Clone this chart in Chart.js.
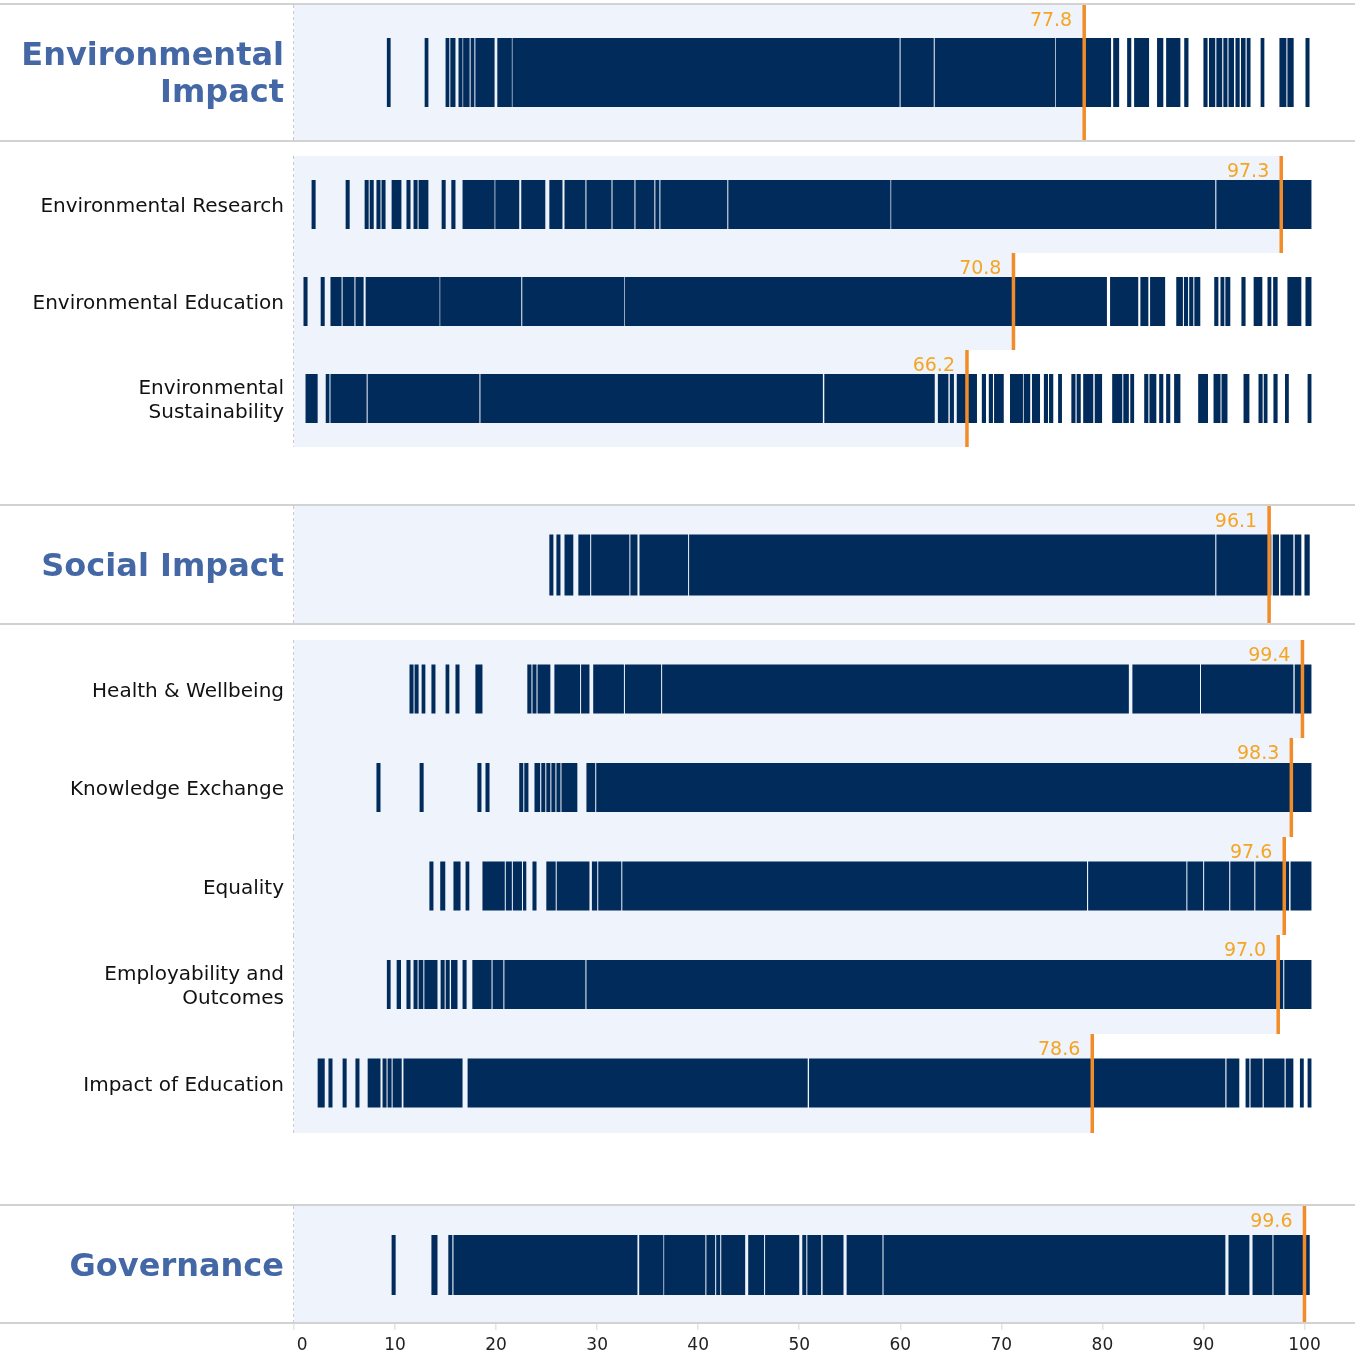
<!DOCTYPE html>
<html>
<head>
<meta charset="utf-8">
<script src="https://cdn.jsdelivr.net/npm/chart.js@4.4.1/dist/chart.umd.min.js"></script>
<style>
  html, body { margin: 0; padding: 0; background: #ffffff; }
  canvas { display: block; }
</style>
</head>
<body>
<canvas id="impactChart" width="1355" height="1359"></canvas>
<script>
// row labels (top to bottom)
const rowLabels = [
  ['Environmental', 'Impact'],
  'Environmental Research',
  'Environmental Education',
  ['Environmental', 'Sustainability'],
  'Social Impact',
  'Health & Wellbeing',
  'Knowledge Exchange',
  'Equality',
  ['Employability and', 'Outcomes'],
  'Impact of Education',
  'Governance'
];
const headerRows = [true, false, false, false, true, false, false, false, false, false, true];

// highlighted score per row
const highlightValues = [77.8, 97.3, 70.8, 66.2, 96.1, 99.4, 98.3, 97.6, 97.0, 78.6, 99.6];

// score spans per row [start, end]
const envImpact = [[9.19,9.56],[12.93,13.30],[15.0,15.37],[15.47,15.98],[16.28,16.68],[16.74,17.38],[17.48,17.85],[17.95,19.85],[20.12,21.56],[21.62,59.93],[60.03,63.31],[63.41,75.34],[75.41,80.86],[81.07,81.66],[82.45,82.86],[83.14,84.62],[85.41,86.03],[86.31,87.72],[88.10,88.52],[90.0,90.41],[90.55,91.17],[91.28,91.86],[91.97,92.38],[92.48,93.03],[93.17,93.59],[93.72,94.17],[94.28,94.66],[95.66,96.03],[97.52,98.21],[98.31,98.93],[100.1,100.5]];
const envResearch = [[1.74,2.14],[5.11,5.51],[6.99,7.39],[7.49,7.89],[8.16,8.56],[8.66,9.06],[9.66,10.63],[11.13,11.53],[11.83,12.23],[12.33,13.30],[14.61,15.01],[15.57,15.98],[16.68,19.85],[19.92,22.29],[22.49,24.87],[25.27,26.57],[26.77,28.84],[28.94,31.42],[31.52,33.69],[33.79,35.66],[35.76,36.16],[36.26,42.88],[42.98,59.03],[59.10,91.17],[91.28,100.69]];
const envEducation = [[0.94,1.34],[2.64,3.04],[3.61,4.71],[4.81,5.98],[6.08,6.89],[7.09,14.41],[14.47,22.49],[22.59,32.69],[32.75,80.45],[80.76,83.55],[83.76,84.55],[84.72,86.21],[87.31,87.97],[88.07,88.48],[88.59,89.0],[89.10,89.69],[91.07,91.48],[91.69,92.07],[92.17,92.66],[93.76,94.17],[94.97,95.83],[96.34,96.72],[96.90,97.34],[98.31,99.69],[100.1,100.69]];
const envSustainability = [[1.14,2.34],[3.14,3.51],[3.61,7.19],[7.29,18.35],[18.45,52.34],[52.48,63.41],[63.72,64.76],[64.90,65.31],[65.59,67.59],[68.07,68.48],[68.76,69.17],[69.28,70.24],[70.86,72.14],[72.21,72.86],[73.03,73.83],[74.21,74.62],[74.72,75.14],[75.62,76.0],[76.93,77.34],[77.45,77.86],[78.10,79.10],[79.24,79.97],[80.97,81.97],[82.07,82.62],[82.76,83.14],[84.14,84.55],[84.66,85.34],[85.62,86.03],[86.31,86.72],[87.10,87.72],[89.48,90.45],[91.0,91.69],[91.79,92.38],[93.97,94.55],[95.45,95.86],[95.97,96.34],[96.93,97.34],[98.07,98.45],[100.31,100.69]];
const socialImpact = [[25.27,25.67],[25.97,26.37],[26.77,27.64],[28.14,29.31],[29.41,33.19],[33.29,33.99],[34.19,39.0],[39.10,91.17],[91.28,96.72],[96.86,97.48],[97.62,98.90],[99.03,99.69],[100.0,100.52]];
const healthWellbeing = [[11.43,11.83],[11.93,12.33],[12.63,13.0],[13.60,14.0],[15.0,15.37],[15.98,16.38],[17.95,18.65],[23.09,23.50],[23.60,24.0],[24.10,25.37],[25.77,28.31],[28.41,29.24],[29.61,32.65],[32.75,36.33],[36.43,82.62],[82.97,89.66],[89.76,98.90],[99.03,100.69]];
const knowledgeExchange = [[8.16,8.56],[12.43,12.83],[18.15,18.55],[18.95,19.35],[22.29,22.69],[22.79,23.20],[23.80,24.36],[24.47,24.87],[24.97,25.37],[25.47,25.87],[25.97,26.37],[26.47,28.04],[28.94,29.81],[29.91,100.69]];
const equality = [[13.40,13.80],[14.47,14.97],[15.78,16.48],[16.98,17.35],[18.65,20.86],[20.96,21.56],[21.66,22.56],[22.66,22.99],[23.60,24.0],[24.97,25.90],[26.0,29.24],[29.48,30.01],[30.11,32.39],[32.49,78.48],[78.59,88.31],[88.41,89.97],[90.07,92.55],[92.66,95.03],[95.14,98.48],[98.62,100.69]];
const employability = [[9.19,9.56],[10.16,10.59],[11.13,11.53],[11.83,12.23],[12.33,12.80],[12.90,14.20],[14.51,14.91],[15.01,15.41],[15.54,16.18],[16.68,17.08],[17.65,19.55],[19.65,20.72],[20.82,28.84],[28.94,97.24],[97.34,97.9],[98.0,100.69]];
const impactEducation = [[2.34,3.04],[3.41,3.81],[4.81,5.21],[6.08,6.48],[7.29,8.56],[8.76,9.16],[9.26,9.66],[9.76,10.66],[10.83,16.68],[17.18,50.84],[50.97,92.17],[92.28,93.55],[94.17,94.55],[94.66,95.86],[95.97,98.03],[98.14,98.90],[99.55,99.93],[100.31,100.69]];
const governance = [[9.66,10.06],[13.60,14.20],[15.27,15.67],[15.78,33.99],[34.16,36.56],[36.63,40.71],[40.81,41.68],[41.78,42.18],[42.28,44.65],[44.95,46.52],[46.62,50.0],[50.30,50.70],[50.80,52.17],[52.31,54.38],[54.69,58.24],[58.34,92.17],[92.48,94.55],[94.86,96.83],[96.93,100.52]];

const rowSpans = [envImpact, envResearch, envEducation, envSustainability, socialImpact,
  healthWellbeing, knowledgeExchange, equality, employability, impactEducation, governance];

// x axis ticks
const xTicks = [0, 10, 20, 30, 40, 50, 60, 70, 80, 90, 100];

// layout (canvas px): row centre, band top/bottom, bar thickness
const rowLayout = [
  { center: 72.5, top: 5, bottom: 140, thick: 69 },
  { center: 204.5, top: 156, bottom: 253, thick: 49 },
  { center: 301.5, top: 253, bottom: 350, thick: 49 },
  { center: 398.5, top: 350, bottom: 447, thick: 49 },
  { center: 565, top: 506, bottom: 623, thick: 61 },
  { center: 689, top: 640, bottom: 738, thick: 49 },
  { center: 787.5, top: 738, bottom: 837, thick: 49 },
  { center: 886, top: 837, bottom: 935, thick: 49 },
  { center: 984.5, top: 935, bottom: 1034, thick: 49 },
  { center: 1083, top: 1034, bottom: 1133, thick: 49 },
  { center: 1265, top: 1206, bottom: 1322, thick: 60 }
];
const dividerLines = [4, 141, 505, 624, 1205, 1323];

const navy = '#002b5b';
const bandColor = '#eff3fb';
const lineColor = '#f28c28';
const labelColor = '#f5a524';
const headerColor = '#4467a6';
const lineOffset = 0.4;

const datasets = rowSpans.map((spans, i) => ({
  data: spans.map(s => ({ x: s, y: rowLayout[i].center })),
  backgroundColor: navy,
  borderWidth: 0,
  inflateAmount: 0,
  barThickness: rowLayout[i].thick,
  grouped: false
}));

const decorPlugin = {
  id: 'decor',
  beforeDatasetsDraw(chart) {
    const { ctx, chartArea } = chart;
    const x = chart.scales.x;
    ctx.save();
    rowLayout.forEach((r, i) => {
      const xEnd = x.getPixelForValue(highlightValues[i] + lineOffset);
      ctx.fillStyle = bandColor;
      ctx.fillRect(chartArea.left, r.top, xEnd - chartArea.left, r.bottom - r.top);
      ctx.strokeStyle = '#c9c9c9';
      ctx.lineWidth = 1;
      ctx.setLineDash([3, 3]);
      ctx.beginPath();
      ctx.moveTo(chartArea.left - 0.5, r.top);
      ctx.lineTo(chartArea.left - 0.5, r.bottom);
      ctx.stroke();
    });
    ctx.setLineDash([]);
    ctx.fillStyle = '#d2d2d2';
    dividerLines.forEach(y => ctx.fillRect(0, y - 1, chart.width, 2));
    ctx.restore();
  },
  afterDatasetsDraw(chart) {
    const { ctx } = chart;
    const x = chart.scales.x;
    ctx.save();
    rowLayout.forEach((r, i) => {
      const px = x.getPixelForValue(highlightValues[i] + lineOffset);
      ctx.fillStyle = lineColor;
      ctx.fillRect(px - 1.75, r.top, 3.5, r.bottom - r.top);
      ctx.fillStyle = labelColor;
      ctx.font = '19px "DejaVu Sans"';
      ctx.textAlign = 'right';
      ctx.textBaseline = 'middle';
      ctx.fillText(highlightValues[i].toFixed(1), px - 12, r.top + 16);
    });
    ctx.restore();
  }
};

const ctx = document.getElementById('impactChart').getContext('2d');

const impactChart = new Chart(ctx, {
  type: 'bar',
  data: { datasets: datasets },
  plugins: [decorPlugin],
  options: {
    indexAxis: 'y',
    responsive: false,
    animation: false,
    devicePixelRatio: 1,
    layout: { padding: { top: 4, right: 0, left: 0, bottom: 0 } },
    plugins: {
      legend: { display: false },
      tooltip: { enabled: false }
    },
    scales: {
      x: {
        type: 'linear',
        min: 0,
        max: 105,
        afterBuildTicks: (scale) => { scale.ticks = xTicks.map(v => ({ value: v })); },
        afterFit: (scale) => { scale.height = 36; scale.paddingLeft = 0; scale.paddingRight = 0; },
        border: { display: false },
        grid: { drawOnChartArea: false, drawTicks: true, tickLength: 7, color: '#e4e4e4', lineWidth: 1.5 },
        ticks: {
          autoSkip: false,
          maxRotation: 0,
          padding: 5,
          color: '#222222',
          font: { family: 'DejaVu Sans', size: 17 },
          callback: (v) => v === 0 ? '   0' : String(v)
        }
      },
      y: {
        type: 'linear',
        min: 4,
        max: 1323,
        reverse: true,
        offset: false,
        afterBuildTicks: (scale) => { scale.ticks = rowLayout.map(r => ({ value: r.center })); },
        afterFit: (scale) => { scale.width = 294; scale.paddingTop = 0; scale.paddingBottom = 0; },
        border: { display: false },
        grid: { display: false, drawTicks: false, offset: false },
        ticks: {
          autoSkip: false,
          padding: 10,
          labelOffset: 2.5,
          callback: (v, i) => rowLabels[i],
          color: (c) => headerRows[c.index] ? headerColor : '#111111',
          font: (c) => headerRows[c.index]
            ? { family: 'DejaVu Sans', size: 32, weight: 'bold', lineHeight: 1.15 }
            : { family: 'DejaVu Sans', size: 20, lineHeight: 1.2 }
        }
      }
    }
  }
});
</script>
</body>
</html>
